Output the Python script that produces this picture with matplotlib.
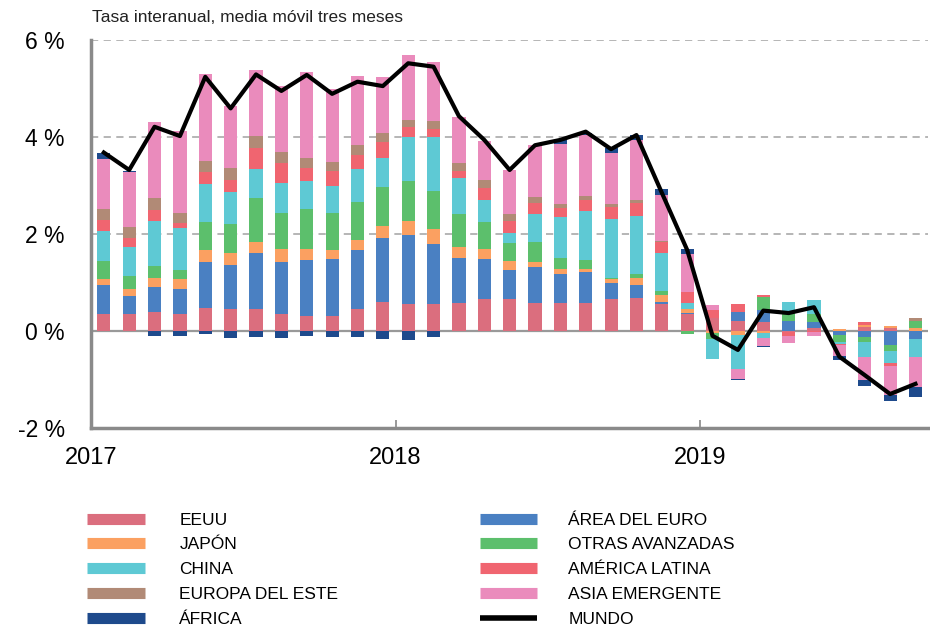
import numpy as np
import matplotlib
matplotlib.use('Agg')
import matplotlib.pyplot as plt
from matplotlib.lines import Line2D

plt.rcParams['font.family'] = ['Liberation Sans', 'DejaVu Sans']

# Contribuciones por región (pp), enero 2017 - septiembre 2019
eeuu = [0.36, 0.34, 0.40, 0.36, 0.47, 0.45, 0.45, 0.36, 0.30, 0.31, 0.46, 0.60,
        0.56, 0.56, 0.57, 0.66, 0.66, 0.57, 0.57, 0.57, 0.65, 0.67, 0.55, 0.36,
        0.26, 0.21, 0.18, -0.03, 0.06, 0.00, 0.09, 0.06, 0.00]
euro = [0.58, 0.38, 0.51, 0.50, 0.95, 0.92, 1.15, 1.07, 1.17, 1.17, 1.20, 1.31,
        1.41, 1.24, 0.93, 0.82, 0.60, 0.74, 0.60, 0.64, 0.33, 0.27, 0.05, 0.01,
        0.00, 0.19, 0.25, 0.20, 0.12, -0.08, -0.12, -0.29, -0.17]
japon = [0.14, 0.15, 0.18, 0.21, 0.24, 0.24, 0.23, 0.26, 0.23, 0.19, 0.21, 0.26,
         0.29, 0.31, 0.24, 0.21, 0.18, 0.12, 0.10, 0.06, 0.09, 0.15, 0.14, 0.08,
         -0.04, -0.08, -0.04, 0.00, 0.00, 0.04, 0.04, 0.05, 0.07]
otras = [0.36, 0.26, 0.25, 0.19, 0.59, 0.59, 0.91, 0.74, 0.82, 0.77, 0.78, 0.80,
         0.84, 0.78, 0.68, 0.55, 0.38, 0.41, 0.23, 0.19, 0.02, 0.08, 0.08, -0.07,
         -0.13, 0.00, 0.28, 0.19, 0.17, -0.14, -0.10, -0.12, 0.14]
china = [0.63, 0.60, 0.93, 0.86, 0.78, 0.67, 0.60, 0.63, 0.58, 0.54, 0.68, 0.60,
         0.89, 1.11, 0.74, 0.47, 0.21, 0.58, 0.85, 1.01, 1.22, 1.20, 0.79, 0.12,
         -0.41, -0.71, -0.10, 0.20, 0.28, -0.05, -0.32, -0.25, -0.36]
amlat = [0.22, 0.19, 0.23, 0.10, 0.24, 0.25, 0.43, 0.41, 0.27, 0.31, 0.30, 0.32,
         0.21, 0.17, 0.14, 0.24, 0.23, 0.21, 0.19, 0.23, 0.25, 0.27, 0.23, 0.24,
         0.17, 0.16, 0.03, -0.07, -0.03, -0.02, 0.05, -0.06, 0.00]
eur_este = [0.23, 0.22, 0.25, 0.21, 0.24, 0.25, 0.25, 0.22, 0.20, 0.19, 0.21, 0.19,
            0.16, 0.17, 0.16, 0.17, 0.16, 0.14, 0.08, 0.08, 0.05, 0.06, 0.02, 0.00,
            0.00, 0.00, 0.00, 0.00, 0.00, 0.00, 0.00, 0.00, 0.05]
asia = [1.02, 1.13, 1.56, 1.70, 1.79, 1.26, 1.36, 1.37, 1.76, 1.50, 1.42, 1.15,
        1.34, 1.21, 0.96, 0.79, 0.89, 1.06, 1.24, 1.26, 1.07, 1.24, 0.95, 0.78,
        0.11, -0.19, -0.16, -0.15, -0.08, -0.23, -0.47, -0.60, -0.63]
africa = [0.14, 0.02, -0.10, -0.11, -0.06, -0.14, -0.12, -0.14, -0.10, -0.12, -0.12, -0.17,
          -0.19, -0.12, 0.00, 0.00, 0.00, 0.00, 0.07, 0.05, 0.09, 0.11, 0.11, 0.10,
          0.00, -0.03, -0.03, 0.00, 0.00, -0.07, -0.12, -0.12, -0.21]
mundo = [3.68, 3.32, 4.21, 4.02, 5.24, 4.59, 5.29, 4.95, 5.28, 4.89, 5.14, 5.05,
         5.52, 5.45, 4.43, 3.94, 3.32, 3.83, 3.94, 4.11, 3.75, 4.04, 2.85, 1.67,
         -0.10, -0.39, 0.42, 0.37, 0.49, -0.53, -0.91, -1.30, -1.09]

series = [
    ('EEUU', eeuu, '#db6e7e'),
    ('ÁREA DEL EURO', euro, '#4a80c2'),
    ('JAPÓN', japon, '#fba061'),
    ('OTRAS AVANZADAS', otras, '#5cbf6c'),
    ('CHINA', china, '#5ec9d4'),
    ('AMÉRICA LATINA', amlat, '#f06570'),
    ('EUROPA DEL ESTE', eur_este, '#b18a76'),
    ('ASIA EMERGENTE', asia, '#ea8bbc'),
    ('ÁFRICA', africa, '#1e4a8c'),
]

x = np.arange(len(mundo)) + 0.5

fig = plt.figure(figsize=(9.3, 6.28), dpi=100)
ax = fig.add_axes([0.098, 0.3185, 0.9, 0.6178])

# barras apiladas: positivos hacia arriba, negativos hacia abajo
pos = np.zeros(len(x))
neg = np.zeros(len(x))
for nombre, vals, color in series:
    v = np.array(vals)
    base = np.where(v >= 0, pos, neg)
    ax.bar(x, v, width=0.52, bottom=base, color=color, linewidth=0, zorder=2)
    pos += np.where(v >= 0, v, 0)
    neg += np.where(v < 0, v, 0)

ax.plot(x, mundo, color='black', lw=3, zorder=3)

ax.set_xlim(0, 33)
ax.set_ylim(-2, 6)
for y in [2, 4, 6]:
    ax.axhline(y, color='#b0b0b0', lw=1.3, ls=(0, (4, 3)), zorder=1)
ax.axhline(0, color='#999999', lw=1.6, zorder=1)

ax.set_yticks([-2, 0, 2, 4, 6])
ax.set_yticklabels(['-2 %', '0 %', '2 %', '4 %', '6 %'], fontsize=16.5)
ax.set_xticks([0, 12, 24])
ax.set_xticklabels(['2017', '2018', '2019'], fontsize=17)
ax.tick_params(axis='y', length=0, pad=19)
ax.tick_params(axis='x', direction='in', length=6, width=1.2, color='#888888', pad=14)

for s in ['top', 'right']:
    ax.spines[s].set_visible(False)
for s in ['left', 'bottom']:
    ax.spines[s].set_color('#8a8a8a')
    ax.spines[s].set_linewidth(2.5)

fig.text(0.099, 0.972, 'Tasa interanual, media móvil tres meses', fontsize=12.5,
         ha='left', va='center', color='#222222')

# leyenda en dos columnas
col1 = ['EEUU', 'JAPÓN', 'CHINA', 'EUROPA DEL ESTE', 'ÁFRICA']
col2 = ['ÁREA DEL EURO', 'OTRAS AVANZADAS', 'AMÉRICA LATINA', 'ASIA EMERGENTE']
colores = {n: c for n, _, c in series}
leg_font = {'family': ['Liberation Sans Narrow', 'Liberation Sans'], 'size': 12.5}

h1 = [Line2D([], [], color=colores[n], lw=8, solid_capstyle='butt') for n in col1]
h2 = [Line2D([], [], color=colores[n], lw=8, solid_capstyle='butt') for n in col2]
h2.append(Line2D([], [], color='black', lw=4, solid_capstyle='butt'))
fig.legend(h1, col1, loc='upper left', bbox_to_anchor=(0.094, 0.184),
           frameon=False, prop=leg_font, handlelength=3.3, handletextpad=2.0,
           labelspacing=0.56, borderpad=0, borderaxespad=0)
fig.legend(h2, col2 + ['MUNDO'], loc='upper left', bbox_to_anchor=(0.516, 0.184),
           frameon=False, prop=leg_font, handlelength=3.3, handletextpad=1.8,
           labelspacing=0.56, borderpad=0, borderaxespad=0)

fig.savefig('out.png', dpi=100)
